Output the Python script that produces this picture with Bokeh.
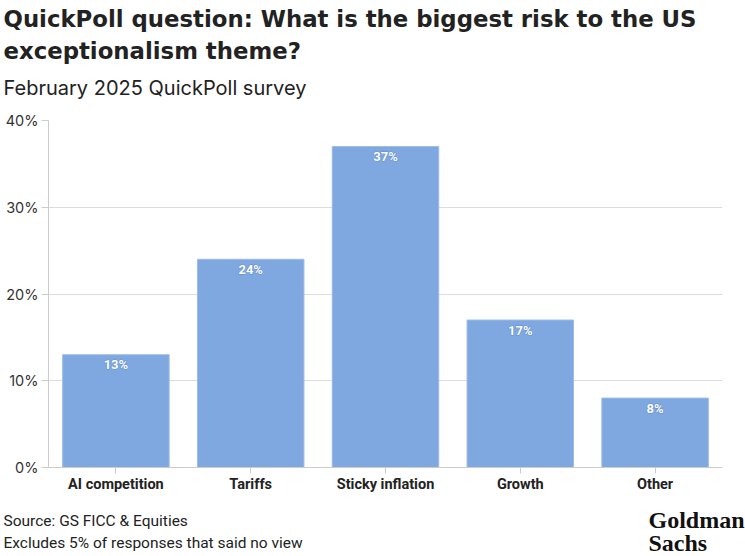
from bokeh.plotting import figure
from bokeh.models import ColumnDataSource, NumeralTickFormatter, FixedTicker, Label
from bokeh.core.properties import value
from bokeh.embed import file_html
from bokeh.resources import INLINE

categories = ["AI competition", "Tariffs", "Sticky inflation", "Growth", "Other"]
shares = [0.13, 0.24, 0.37, 0.17, 0.08]
share_labels = ["13%", "24%", "37%", "17%", "8%"]
y_ticks = [0.0, 0.1, 0.2, 0.3, 0.4]

title_line1 = "QuickPoll question: What is the biggest risk to the US"
title_line2 = "exceptionalism theme?"
subtitle = "February 2025 QuickPoll survey"
footer_lines = "Source: GS FICC & Equities\nExcludes 5% of responses that said no view"
logo_lines = "Goldman\nSachs"

W, H = 745, 556
p = figure(x_range=categories, y_range=(0, 0.4), width=W, height=H,
           output_backend="svg", toolbar_location=None,
           min_border_left=48, min_border_right=23, min_border_top=120, min_border_bottom=89)
p.title.visible = False

src = ColumnDataSource(dict(cat=categories, val=shares, lab=share_labels))
p.vbar(x="cat", top="val", width=0.79, source=src, fill_color="#7fa8e0",
       line_color="#9dbbe8", line_width=1)
p.text(x="cat", y="val", text="lab", source=src, text_align="center",
       text_baseline="middle", y_offset=10, text_color="#5f8bd0",
       text_font=value("Roboto"), text_font_style="bold", text_font_size="13px",
       text_outline_color="#5f8bd0")
p.text(x="cat", y="val", text="lab", source=src, text_align="center",
       text_baseline="middle", y_offset=10, text_color="white",
       text_font=value("Roboto"), text_font_style="bold", text_font_size="13px")

p.outline_line_color = None
p.xgrid.grid_line_color = None
p.ygrid.grid_line_color = "#dcdcdc"
p.ygrid.ticker = FixedTicker(ticks=y_ticks)

p.yaxis.ticker = FixedTicker(ticks=y_ticks)
p.yaxis.formatter = NumeralTickFormatter(format="0%")
p.yaxis.axis_line_color = "#cccccc"
p.yaxis.major_tick_line_color = "#cccccc"
p.yaxis.major_tick_out = 7
p.yaxis.major_tick_in = 0
p.yaxis.minor_tick_line_color = None
p.yaxis.major_label_standoff = 3
p.yaxis.major_label_text_font = "Inter"
p.yaxis.major_label_text_font_size = "14.5px"
p.yaxis.major_label_text_color = "#333333"

p.xaxis.axis_line_color = "#cccccc"
p.xaxis.major_tick_line_color = "#cccccc"
p.xaxis.major_tick_out = 6
p.xaxis.major_tick_in = 0
p.xaxis.major_label_standoff = 2
p.xaxis.major_label_text_font = "Roboto"
p.xaxis.major_label_text_font_style = "bold"
p.xaxis.major_label_text_font_size = "14.5px"
p.xaxis.major_label_text_color = "#222222"

try:
    Label(x=0, y=0, x_units="canvas", y_units="canvas")
    units = dict(x_units="canvas", y_units="canvas")
except Exception:
    units = dict(x_units="screen", y_units="screen")


def label(txt, x, y, size, style, font, place, lh=1.0, align="left", color="#222222"):
    p.add_layout(Label(x=x, y=y, text=txt, text_align=align, text_baseline="middle",
                       text_font=font, text_font_style=style, text_font_size=size,
                       text_line_height=lh, text_color=color, **units), place)


# Labels sit at absolute canvas positions; the panel each joins only reserves room.
label(title_line1, 3, 18, "22.8px", "bold", "DejaVu Sans", "above", lh=0.7)
label(title_line2, 3, 50, "22.8px", "bold", "DejaVu Sans", "above", lh=0.7)
label(subtitle, 3, 87, "20px", "normal", "Inter", "above", lh=0.7)
label(footer_lines, 3, 531.5, "15.5px", "normal", "Roboto", "above", lh=1.23)
label(logo_lines, 648, 531, "24px", "bold", "Liberation Serif", "below", lh=0.85, color="#111111")

open("out.html", "w").write(file_html(p, INLINE))
